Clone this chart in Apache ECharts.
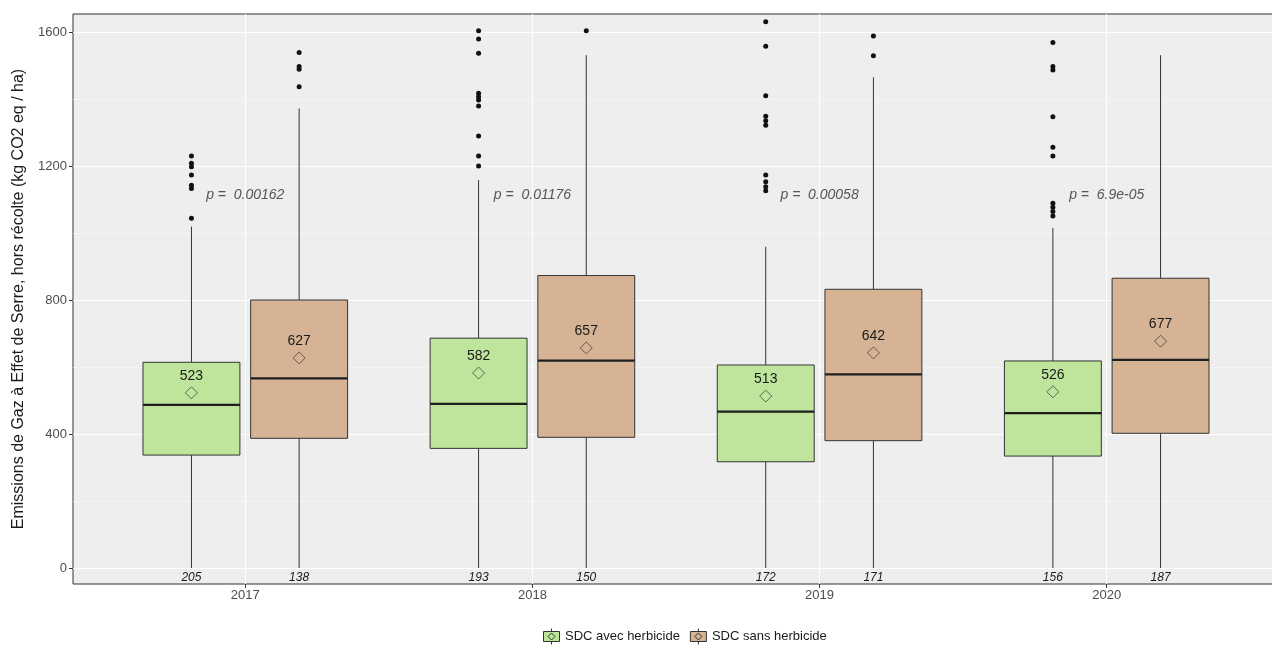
<!DOCTYPE html>
<html>
<head>
<meta charset="utf-8">
<script src="https://cdn.jsdelivr.net/npm/echarts@6/dist/echarts.min.js"></script>
<style>html,body{margin:0;padding:0;background:#fff}#c{width:1272px;height:650px}</style>
</head>
<body>
<div id="c"></div>
<script>
// ---------- data ----------
const years = ['2017', '2018', '2019', '2020'];
const seriesNames = ['SDC avec herbicide', 'SDC sans herbicide'];

// SDC avec herbicide
const avecLow    = [0, 0, 0, 0];
const avecQ1     = [337, 357, 317, 334];
const avecMedian = [487, 490, 467, 462];
const avecQ3     = [614, 686, 606, 618];
const avecHigh   = [1019, 1158, 959, 1015];
const avecMean   = [523, 582, 513, 526];
const avecN      = [205, 193, 172, 156];
const avecOutliers = [
  [1230, 1208, 1198, 1173, 1143, 1133, 1044],
  [1604, 1579, 1537, 1417, 1407, 1397, 1379, 1290, 1230, 1200],
  [1631, 1558, 1410, 1349, 1335, 1322, 1173, 1153, 1138, 1126],
  [1569, 1497, 1487, 1347, 1256, 1230, 1089, 1077, 1064, 1051]
];

// SDC sans herbicide
const sansLow    = [0, 0, 0, 0];
const sansQ1     = [387, 390, 380, 402];
const sansMedian = [566, 619, 578, 621];
const sansQ3     = [800, 873, 832, 865];
const sansHigh   = [1372, 1531, 1465, 1531];
const sansMean   = [627, 657, 642, 677];
const sansN      = [138, 150, 171, 187];
const sansOutliers = [
  [1539, 1497, 1489, 1437],
  [1604],
  [1588, 1529],
  []
];

const pValues = ['0.00162', '0.01176', '0.00058', '6.9e-05'];

const yTicks = [0, 400, 800, 1200, 1600];
const yMinorTicks = [200, 600, 1000, 1400];

// ---------- layout / style constants ----------
const DODGE = 0.1875;
const BOX_W = 0.3375;
const P_LABEL_Y = 1113;
const FONT = '"Liberation Sans", Arial, sans-serif';
const fills = ['#bfe59d', '#d5b394'];

function boxData(low, q1, med, q3, high, mean, n, off) {
  return years.map((y, i) => [i + 1 + off, low[i], q1[i], med[i], q3[i], high[i], mean[i], n[i]]);
}
function outlierData(list, off) {
  const out = [];
  list.forEach((arr, i) => arr.forEach(v => out.push([i + 1 + off, v])));
  return out;
}

function renderBox(params, api) {
  const x = api.value(0);
  const w = api.size([BOX_W, 0])[0];
  const pLo = api.coord([x, api.value(1)]);
  const pQ1 = api.coord([x, api.value(2)]);
  const pMed = api.coord([x, api.value(3)]);
  const pQ3 = api.coord([x, api.value(4)]);
  const pHi = api.coord([x, api.value(5)]);
  const pMean = api.coord([x, api.value(6)]);
  const pZero = api.coord([x, 0]);
  const cx = pQ1[0];
  const fill = api.visual('color');
  const r = 6;
  const line = '#333333';
  return {
    type: 'group',
    children: [
      { type: 'line', shape: { x1: cx, y1: pQ3[1], x2: cx, y2: pHi[1] }, style: { stroke: line, lineWidth: 1 } },
      { type: 'line', shape: { x1: cx, y1: pQ1[1], x2: cx, y2: pLo[1] }, style: { stroke: line, lineWidth: 1 } },
      { type: 'rect', shape: { x: cx - w / 2, y: pQ3[1], width: w, height: pQ1[1] - pQ3[1] },
        style: { fill: fill, stroke: line, lineWidth: 1 } },
      { type: 'line', shape: { x1: cx - w / 2, y1: pMed[1], x2: cx + w / 2, y2: pMed[1] }, style: { stroke: '#1f1f1f', lineWidth: 2.2 } },
      { type: 'polygon', shape: { points: [[cx, pMean[1] - r], [cx + r, pMean[1]], [cx, pMean[1] + r], [cx - r, pMean[1]]] },
        style: { fill: 'none', stroke: '#444', lineWidth: 0.8 } },
      { type: 'text', style: { text: String(api.value(6)), x: cx, y: pMean[1] - 17, align: 'center', verticalAlign: 'middle',
        font: '14px ' + FONT, fill: '#1a1a1a' } },
      { type: 'text', style: { text: String(api.value(7)), x: cx, y: pZero[1] + 10, align: 'center', verticalAlign: 'middle',
        font: 'italic 12px ' + FONT, fill: '#1a1a1a' } }
    ]
  };
}

function renderP(params, api) {
  const p = api.coord([api.value(0), P_LABEL_Y]);
  return {
    type: 'text',
    style: { text: 'p =  ' + pValues[params.dataIndex], x: p[0], y: p[1], align: 'center', verticalAlign: 'middle',
      font: 'italic 14px ' + FONT, fill: '#555555' }
  };
}

const chart = echarts.init(document.getElementById('c'));
chart.setOption({
  animation: false,
  textStyle: { fontFamily: FONT },
  grid: { left: 73, top: 14, width: 1206, height: 570, show: true, backgroundColor: '#eeeeee', borderColor: '#333', borderWidth: 1,
    containLabel: false, outerBoundsMode: 'none' },
  legend: {
    left: 538, top: 623, itemWidth: 17, itemHeight: 16, itemGap: 10,
    icon: 'path://M0,3 H16 V13 H0 Z M8,0 V3 M8,13 V16 M8,4.5 L11.5,8 L8,11.5 L4.5,8 Z',
    itemStyle: { borderColor: '#333', borderWidth: 1 },
    textStyle: { fontSize: 13, color: '#1a1a1a', fontFamily: FONT },
    data: seriesNames
  },
  xAxis: {
    type: 'value', min: 0.4, max: 4.6,
    axisLine: { show: false, onZero: false },
    axisTick: { show: true, customValues: [1, 2, 3, 4], length: 4, lineStyle: { color: '#333' } },
    axisLabel: { customValues: [1, 2, 3, 4], formatter: v => years[Math.round(v) - 1] || '', fontSize: 13, color: '#4d4d4d', margin: 5 },
    splitLine: { show: true, lineStyle: { color: '#ffffff', width: 1.2 } }
  },
  yAxis: [{
    type: 'value', min: -48, max: 1654,
    name: 'Emissions de Gaz à Effet de Serre, hors récolte (kg CO2 eq / ha)',
    nameLocation: 'middle', nameGap: 46,
    nameTextStyle: { fontSize: 16, color: '#1a1a1a', fontFamily: FONT },
    axisLine: { show: false, onZero: false },
    axisTick: { show: true, customValues: yTicks, length: 4, lineStyle: { color: '#333' } },
    axisLabel: { customValues: yTicks, formatter: v => String(v), fontSize: 13, color: '#4d4d4d', margin: 6 },
    splitLine: { show: true, lineStyle: { color: '#ffffff', width: 1.2 } }
  }, {
    type: 'value', min: -48, max: 1654, position: 'left',
    axisLine: { show: false, onZero: false },
    axisTick: { show: false, customValues: yMinorTicks },
    axisLabel: { show: false, customValues: yMinorTicks },
    splitLine: { show: true, lineStyle: { color: '#f8f8f8', width: 0.6 } }
  }],
  series: [
    { name: seriesNames[0], type: 'custom', renderItem: renderBox, itemStyle: { color: fills[0] },
      encode: { x: 0, y: [1, 2, 3, 4, 5] }, data: boxData(avecLow, avecQ1, avecMedian, avecQ3, avecHigh, avecMean, avecN, -DODGE), z: 3 },
    { name: seriesNames[1], type: 'custom', renderItem: renderBox, itemStyle: { color: fills[1] },
      encode: { x: 0, y: [1, 2, 3, 4, 5] }, data: boxData(sansLow, sansQ1, sansMedian, sansQ3, sansHigh, sansMean, sansN, DODGE), z: 3 },
    { type: 'scatter', data: outlierData(avecOutliers, -DODGE), symbolSize: 5, itemStyle: { color: '#111111', opacity: 1 }, z: 4, silent: true },
    { type: 'scatter', data: outlierData(sansOutliers, DODGE), symbolSize: 5, itemStyle: { color: '#111111', opacity: 1 }, z: 4, silent: true },
    { type: 'custom', renderItem: renderP, data: years.map((y, i) => [i + 1]), encode: { x: 0 }, z: 5, silent: true }
  ]
});
</script>
</body>
</html>
